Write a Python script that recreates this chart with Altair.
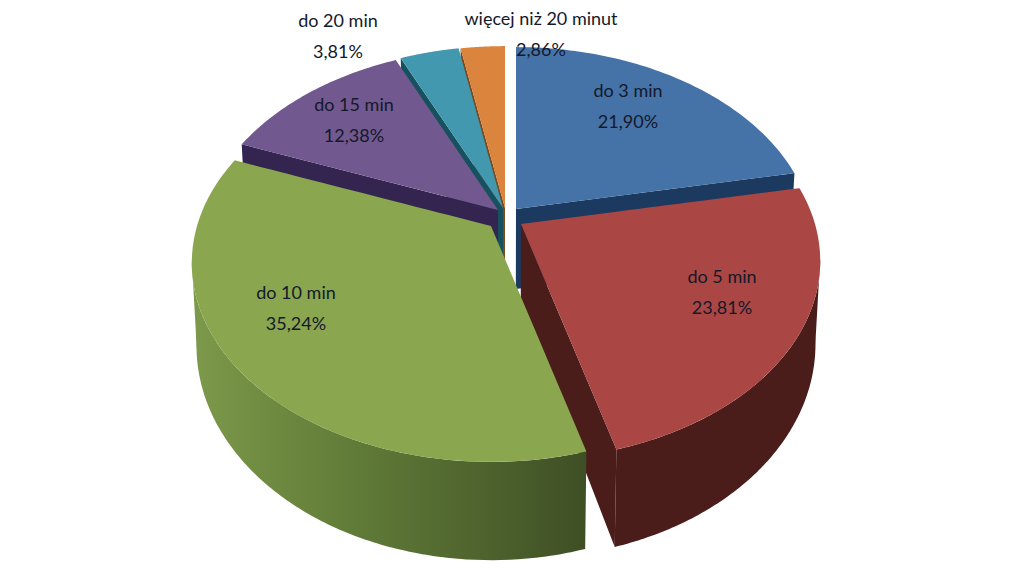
import math
import altair as alt
import numpy as np
import pandas as pd

# ---- values ----
labels = ["do 3 min", "do 5 min", "do 10 min", "do 15 min", "do 20 min", "więcej niż 20 minut"]
shares = [21.90, 23.81, 35.24, 12.38, 3.81, 2.86]
share_text = ["21,90%", "23,81%", "35,24%", "12,38%", "3,81%", "2,86%"]

# ---- look of the chart ----
top_colors = ["#4572a7", "#aa4643", "#8aa64f", "#71588f", "#4198af", "#db843d"]
face_colors = ["#1c3a5f", "#4a1c1a", "#3f4e24", "#33254f", "#17505f", "#7a4a1e"]
# centre of each exploded slice, in picture pixels
centres = [(516, 209), (521, 224), (491, 226), (498, 210), (503, 208), (505, 208)]
label_at = [(628, 92), (722, 278), (296, 294), (354, 106), (338, 22), (541, 20)]
LINE = 31
R, RY, K, DEPTH, NARROW, VX = 294.0, 192.0, 0.186, 80.0, 0.985, 505.0
FONT = "Lato"

W, H = 1007, 556
xscale = alt.Scale(domain=[8, 8 + W], nice=False, zero=False)
yscale = alt.Scale(domain=[8, 8 + H], nice=False, zero=False, reverse=True)


def top(c, t):
    a = math.radians(t)
    u, v = math.sin(a), -math.cos(a)
    s = 1 / (1 - K * v)
    return (c[0] + R * u * s, c[1] + RY * v * s, s)


def bottom(c, t):
    x, y, s = top(c, t)
    return (VX + (x - VX) * NARROW, y + DEPTH * s)


def arc(c, t0, t1, n=70):
    return [top(c, t)[:2] for t in np.linspace(t0, t1, n)]


def sector(c, t0, t1):
    return [c] + arc(c, t0, t1)


def cut_face(c, t):
    return [c, top(c, t)[:2], bottom(c, t), (VX + (c[0] - VX) * NARROW, c[1] + DEPTH)]


def rim(c, t0, t1, n=70):
    ts = np.linspace(t0, t1, n)
    return [top(c, t)[:2] for t in ts] + [bottom(c, t) for t in ts[::-1]]


def slices(poly):
    pts = list(poly)
    edges = list(zip(pts, pts[1:] + pts[:1]))
    rows = []
    for X in np.unique(np.round([p[0] for p in pts], 3)):
        ys = []
        for (x0, y0), (x1, y1) in edges:
            if min(x0, x1) - 1e-3 <= X <= max(x0, x1) + 1e-3:
                if abs(x1 - x0) < 1e-3:
                    ys += [y0, y1]
                else:
                    ys.append(y0 + (y1 - y0) * (X - x0) / (x1 - x0))
        rows.append({"x": float(X), "y": min(ys), "y2": max(ys)})
    return pd.DataFrame(rows)


def layer(poly, color):
    return alt.Chart(slices(poly)).mark_area(color=color, opacity=1, line=False).encode(
        x=alt.X("x:Q", scale=xscale, axis=None),
        y=alt.Y("y:Q", scale=yscale, axis=None),
        y2="y2:Q",
    )


edges = [0.0]
for v in shares:
    edges.append(edges[-1] + v / sum(shares) * 360)
edges[-1] = 360.0

green_wall = alt.LinearGradient(
    gradient="linear", x1=0, x2=1, y1=0, y2=0,
    stops=[
        alt.GradientStop(color="#7d994a", offset=0),
        alt.GradientStop(color="#64803a", offset=0.35),
        alt.GradientStop(color="#3f4f25", offset=1),
    ],
)

parts = []
# back slices first, each one's cut face then its top
for i in (5, 4, 3):
    parts.append(layer(cut_face(centres[i], edges[i]), face_colors[i]))
    parts.append(layer(sector(centres[i], edges[i], edges[i + 1]), top_colors[i]))
# blue
parts.append(layer(cut_face(centres[0], edges[1]), face_colors[0]))
parts.append(layer(sector(centres[0], edges[0], edges[1]), top_colors[0]))
# red
parts.append(layer(cut_face(centres[1], edges[2]), face_colors[1]))
parts.append(layer(rim(centres[1], 100, edges[2]), face_colors[1]))
parts.append(layer(sector(centres[1], edges[1], edges[2]), top_colors[1]))
# green
parts.append(layer(rim(centres[2], edges[2], 260), green_wall))
parts.append(layer(sector(centres[2], edges[2], edges[3]), top_colors[2]))

text_rows = []
for name, pct, (x, y) in zip(labels, share_text, label_at):
    text_rows.append({"x": x, "y": y, "t": name})
    text_rows.append({"x": x, "y": y + LINE, "t": pct})
text = alt.Chart(pd.DataFrame(text_rows)).mark_text(
    font=FONT, fontSize=18, color="#14192b", align="center", baseline="middle"
).encode(
    x=alt.X("x:Q", scale=xscale, axis=None),
    y=alt.Y("y:Q", scale=yscale, axis=None),
    text="t:N",
)

chart = alt.layer(*parts, text).properties(
    width=W, height=H, padding=0, background="white",
    autosize=alt.AutoSizeParams(type="none"),
).configure_view(stroke=None)

chart.save("out.html", embed_options={"renderer": "svg", "actions": False})
